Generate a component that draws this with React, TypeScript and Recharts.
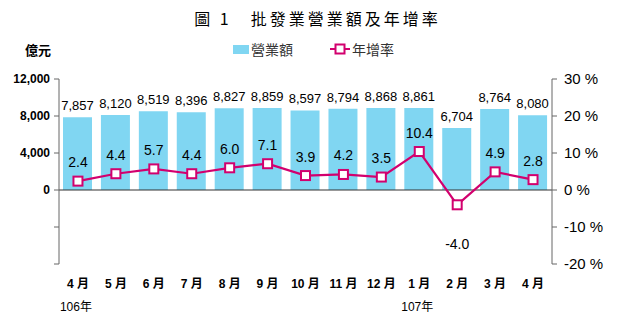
import React from "react";
import {
  ComposedChart,
  Bar,
  Line,
  XAxis,
  YAxis,
  ReferenceLine,
  LabelList,
} from "recharts";

const months = ["4月", "5月", "6月", "7月", "8月", "9月", "10月", "11月", "12月", "1月", "2月", "3月", "4月"];
const years = ["106年", "", "", "", "", "", "", "", "", "107年", "", "", ""];
const sales = [7857, 8120, 8519, 8396, 8827, 8859, 8597, 8794, 8868, 8861, 6704, 8764, 8080];
const growth = [2.4, 4.4, 5.7, 4.4, 6.0, 7.1, 3.9, 4.2, 3.5, 10.4, -4.0, 4.9, 2.8];
const leftTicks = [-8000, -4000, 0, 4000, 8000, 12000];
const rightTicks = [-20, -10, 0, 10, 20, 30];

const data = months.map((m, i) => ({ month: m, year: years[i], sales: sales[i], growth: growth[i] }));

const BAR = "#80d6f2";
const LINE = "#d2006e";
const FONT = "'Liberation Sans', 'Noto Sans CJK TC', sans-serif";

const MonthTick = (props: any) => {
  const { x, y, payload, index } = props;
  const yr = years[index];
  return (
    <g>
      <text x={x} y={y + 16} textAnchor="middle" fontSize={12} fontWeight="bold" fill="#000" fontFamily={FONT}>
        {payload.value.replace("月", " 月")}
      </text>
      {yr ? (
        <text x={x - 2} y={y + 39} textAnchor="middle" fontSize={12} fill="#000" fontFamily={FONT}>
          {yr}
        </text>
      ) : null}
    </g>
  );
};

const SquareDot = (props: any) => {
  const { cx, cy } = props;
  if (cx == null || cy == null) return null;
  return <rect x={cx - 4.5} y={cy - 4.5} width={9} height={9} fill="#fff" stroke={LINE} strokeWidth={2} />;
};

const RateLabel = (props: any) => {
  const { x, y, value } = props;
  const below = value < 0;
  return (
    <text
      x={x}
      y={below ? y + 44 : y - 14}
      textAnchor="middle"
      fontSize={14}
      fill="#000"
      fontFamily={FONT}
    >
      {Number(value).toFixed(1)}
    </text>
  );
};

export default function App() {
  return (
    <div style={{ position: "absolute", left: 0, top: 0, width: 627, height: 330, background: "#fff", fontFamily: FONT }}>
      <div
        style={{
          position: "absolute",
          left: 0,
          width: 627,
          top: 6,
          textAlign: "center",
          fontSize: 16,
          letterSpacing: 3,
          fontFamily: "'Noto Sans CJK TC', sans-serif",
          color: "#000",
          paddingLeft: 4,
        }}
      >
        圖 1　批發業營業額及年增率
      </div>
      <div style={{ position: "absolute", left: 25, top: 40, fontSize: 13, fontWeight: "bold", fontFamily: "'Noto Sans CJK TC', sans-serif" }}>
        億元
      </div>
      <div style={{ position: "absolute", left: 233, top: 45, width: 16, height: 9, background: BAR }} />
      <div style={{ position: "absolute", left: 251, top: 39, fontSize: 14, color: "#333", fontFamily: "'Noto Sans CJK TC', sans-serif" }}>
        營業額
      </div>
      <svg style={{ position: "absolute", left: 329, top: 43 }} width={22} height={12}>
        <line x1={1} y1={6} x2={21} y2={6} stroke={LINE} strokeWidth={2} />
        <rect x={6.5} y={1.5} width={9} height={9} fill="#fff" stroke={LINE} strokeWidth={2} />
      </svg>
      <div style={{ position: "absolute", left: 352, top: 39, fontSize: 14, color: "#333", fontFamily: "'Noto Sans CJK TC', sans-serif" }}>
        年增率
      </div>
      <ComposedChart
        width={627}
        height={330}
        data={data}
        margin={{ top: 79, right: 15, bottom: 16, left: 9 }}
        style={{ position: "absolute", left: 0, top: 0 }}
      >
        <XAxis
          dataKey="month"
          axisLine={false}
          tickLine={false}
          height={50}
          interval={0}
          tick={<MonthTick />}
        />
        <YAxis
          yAxisId="left"
          domain={[-8000, 12000]}
          ticks={leftTicks}
          width={50}
          axisLine={{ stroke: "#666" }}
          tickLine={{ stroke: "#666" }}
          tickSize={5}
          tickMargin={4}
          tick={{ fontSize: 12, fontWeight: "bold", fill: "#000", fontFamily: FONT }}
          tickFormatter={(v: number) => (v < 0 ? "" : v.toLocaleString("en-US"))}
        />
        <YAxis
          yAxisId="right"
          orientation="right"
          domain={[-20, 30]}
          ticks={rightTicks}
          width={60}
          axisLine={{ stroke: "#666" }}
          tickLine={{ stroke: "#666" }}
          tickSize={5}
          tickMargin={7}
          tick={{ fontSize: 15, fill: "#000", fontFamily: FONT }}
          tickFormatter={(v: number) => `${v} %`}
        />
        <Bar yAxisId="left" dataKey="sales" fill={BAR} barSize={29} isAnimationActive={false}>
          <LabelList
            dataKey="sales"
            position="top"
            offset={7}
            fontSize={13}
            fill="#000"
            fontFamily={FONT}
            formatter={(v: any) => Number(v).toLocaleString("en-US")}
          />
        </Bar>
        <ReferenceLine yAxisId="left" y={0} stroke="#333" strokeWidth={1.2} />
        <Line
          yAxisId="right"
          dataKey="growth"
          stroke={LINE}
          strokeWidth={2.2}
          dot={<SquareDot />}
          activeDot={false}
          isAnimationActive={false}
        >
          <LabelList dataKey="growth" content={<RateLabel />} />
        </Line>
      </ComposedChart>
    </div>
  );
}
